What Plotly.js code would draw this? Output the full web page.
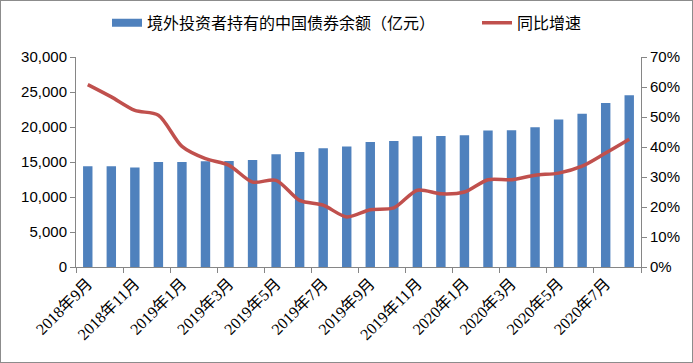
<!DOCTYPE html>
<html>
<head>
<meta charset="utf-8">
<script src="https://cdn.plot.ly/plotly-3.0.1.min.js"></script>
<style>
  body { margin: 0; background: #fff; }
  #wrap { position: relative; width: 693px; height: 363px; }
  #chart { width: 693px; height: 363px; }
  #frame { position: absolute; left: 0; top: 0; width: 693px; height: 363px; box-sizing: border-box; border: 1px solid #8c8c8c; pointer-events: none; }
</style>
</head>
<body>
<div id="wrap"><div id="chart"></div><div id="frame"></div></div>
<script>
const months = ["2018年9月","2018年10月","2018年11月","2018年12月","2019年1月","2019年2月","2019年3月","2019年4月","2019年5月","2019年6月","2019年7月","2019年8月","2019年9月","2019年10月","2019年11月","2019年12月","2020年1月","2020年2月","2020年3月","2020年4月","2020年5月","2020年6月","2020年7月","2020年8月"];
const holdings = [14390,14390,14200,15000,15000,15100,15140,15290,16100,16430,16960,17200,17860,18000,18670,18710,18810,19490,19530,19960,21060,21910,23430,24530];
const yoyGrowth = [0.608,0.567,0.522,0.506,0.402,0.361,0.339,0.283,0.289,0.222,0.206,0.167,0.191,0.197,0.256,0.244,0.250,0.291,0.291,0.306,0.313,0.336,0.380,0.426];
const seriesNames = ["境外投资者持有的中国债券余额（亿元）","同比增速"];

const blue = "#4F81BD", red = "#C0504D", axisCol = "#868686";

const traces = [
  { type: "bar", x: months, y: holdings, name: seriesNames[0], marker: { color: blue }, showlegend: false, yaxis: "y" },
  { type: "scatter", mode: "lines", x: [null], y: [null], name: seriesNames[0], line: { color: blue, width: 8 }, showlegend: true, legend: "legend", hoverinfo: "skip" },
  { type: "scatter", mode: "lines", x: months, y: yoyGrowth, name: seriesNames[1], yaxis: "y2", legend: "legend2", line: { color: red, width: 3.5, shape: "spline", smoothing: 0.8 } }
];

const legendFont = { family: "Noto Sans CJK SC, sans-serif", size: 16, color: "#000" };
const layout = {
  width: 693, height: 363,
  margin: { l: 76, r: 52, t: 57, b: 96 },
  paper_bgcolor: "#fff", plot_bgcolor: "#fff",
  font: { family: "Liberation Sans, Arial, sans-serif", size: 15, color: "#000" },
  bargap: 0.6,
  showlegend: true,
  legend: { orientation: "h", x: 107 / 693, xref: "container", xanchor: "left", y: 0.937, yanchor: "middle", yref: "container", font: legendFont },
  legend2: { orientation: "h", x: 477 / 693, xref: "container", xanchor: "left", y: 0.937, yanchor: "middle", yref: "container", font: legendFont },
  xaxis: {
    type: "category", tickmode: "linear", tick0: 0, dtick: 2, tickson: "boundaries",
    ticks: "outside", ticklen: 5, tickcolor: axisCol, showline: true, linecolor: axisCol, linewidth: 1,
    showgrid: false, tickangle: -45,
    tickfont: { family: "Liberation Serif, Noto Sans CJK SC, serif", size: 16, color: "#000" },
    range: [-0.5, 23.5], fixedrange: true
  },
  yaxis: {
    range: [0, 30000], dtick: 5000, tickformat: ",d", showgrid: false, zeroline: false,
    showline: true, linecolor: axisCol, ticks: "outside", ticklen: 5, tickcolor: axisCol,
    tickfont: { size: 15 }
  },
  yaxis2: {
    range: [0, 0.7], dtick: 0.1, tickformat: ".0%", overlaying: "y", side: "right", showgrid: false, zeroline: false,
    showline: true, linecolor: axisCol, ticks: "outside", ticklen: 5, tickcolor: axisCol,
    tickfont: { size: 15 }
  }
};
Plotly.newPlot("chart", traces, layout, { displayModeBar: false, staticPlot: true });
</script>
</body>
</html>
